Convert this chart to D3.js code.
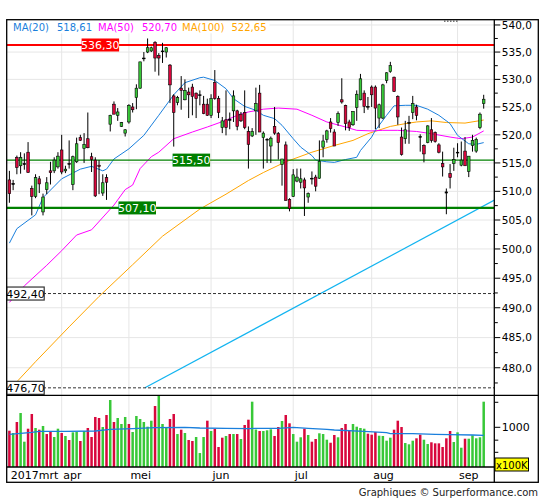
<!DOCTYPE html>
<html>
<head>
<meta charset="utf-8">
<script src="https://cdn.jsdelivr.net/npm/d3@7"></script>
<style>
  body { margin: 0; background: #fff; }
  svg { display: block; }
  text { font-family: "DejaVu Sans", Verdana, sans-serif; }
</style>
</head>
<body>
<svg id="chart" width="545" height="500"></svg>
<script>
// ---- data ----
// daily candles [open, high, low, close], 14 mrt .. 12 sep 2017
var candles = [
  [512.0,513.6,508.0,509.6],[511.2,512.0,510.2,511.4],[516.0,516.3,513.0,514.2],[514.5,516.9,513.1,516.0],[514.7,516.7,513.8,514.9],
  [516.9,518.7,513.3,513.3],[510.5,511.0,505.8,509.1],[509.1,513.0,508.8,512.4],[512.2,512.7,509.7,511.3],[506.4,509.6,505.8,509.0],
  [510.3,512.5,509.5,511.5],[513.6,515.2,511.2,513.3],[513.6,516.0,513.2,515.5],[514.3,516.9,514.0,516.2],[517.3,520.0,513.0,513.4],
  [513.6,514.5,513.2,513.9],[514.9,519.0,514.0,514.8],[511.2,516.3,510.2,516.1],[515.2,519.5,515.0,518.4],[519.5,520.0,518.9,519.0],
  [517.6,520.3,515.0,518.3],[519.3,524.0,517.6,517.7],[516.1,516.8,513.4,515.6],[515.5,516.0,509.0,509.2],[514.6,515.5,509.5,514.4],
  [509.7,513.0,509.2,511.5],[512.4,513.0,508.5,511.6],[521.9,523.6,520.6,523.5],[525.5,526.0,523.7,523.7],[523.5,524.8,522.5,524.1],
  [521.5,522.3,521.4,522.2],[520.3,521.0,519.7,520.9],[522.3,525.5,522.0,525.3],[525.0,525.7,524.0,524.5],[526.7,529.1,524.6,528.4],
  [528.4,533.2,528.3,533.2],[533.8,535.0,533.3,533.9],[535.0,537.5,534.8,535.8],[535.2,536.0,535.0,535.8],[536.8,537.0,531.4,533.9],
  [534.4,534.8,530.7,533.9],[535.2,536.7,533.0,535.1],[535.0,535.9,534.0,535.8],[532.6,532.8,525.7,529.0],[527.0,527.3,517.9,524.0],
  [525.8,527.0,525.3,526.7],[528.4,530.6,524.5,528.0],[526.3,530.0,526.2,528.0],[527.7,528.5,523.0,527.2],[528.6,529.2,523.5,526.9],
  [527.5,527.6,523.0,526.5],[527.1,528.0,525.3,527.2],[525.5,527.0,523.7,523.8],[525.5,526.5,523.4,523.5],[523.5,527.3,523.0,526.5],
  [529.4,531.7,526.3,526.5],[526.5,527.0,523.0,524.0],[521.3,523.2,520.3,522.5],[522.7,528.0,519.9,521.3],[522.8,524.0,521.0,522.6],
  [524.3,528.0,522.3,527.0],[524.3,524.5,520.8,521.5],[523.7,524.1,522.3,522.5],[524.0,528.0,521.0,521.3],[520.6,521.5,514.0,518.3],
  [519.8,521.2,519.6,520.6],[524.3,528.5,520.0,525.6],[527.5,529.0,520.5,520.5],[519.5,520.6,514.0,520.3],[519.2,519.4,515.0,519.1],
  [518.0,519.7,515.0,519.4],[521.5,525.0,520.0,520.3],[520.2,520.5,515.6,518.6],[514.7,515.7,511.0,515.7],[518.2,518.8,508.4,508.4],
  [508.6,508.8,506.5,507.0],[509.1,513.9,509.0,512.9],[511.8,514.0,511.6,512.5],[511.6,514.0,510.5,512.2],[512.0,512.4,505.7,510.6],
  [509.0,509.8,508.0,509.6],[512.3,513.5,511.2,512.2],[512.5,512.9,510.0,510.9],[512.3,519.0,512.2,515.3],[517.8,520.0,516.0,518.9],
  [519.2,520.9,518.6,520.7],[522.3,523.0,520.4,521.1],[520.5,521.0,518.0,518.0],[522.2,524.2,521.6,523.8],[526.3,530.2,525.6,525.9],
  [525.3,525.4,520.8,522.0],[522.3,522.7,520.7,521.3],[521.8,524.2,521.6,524.2],[524.9,528.0,522.5,527.3],[526.3,531.0,526.2,530.1],
  [527.5,528.0,523.9,525.1],[525.0,526.8,524.5,525.1],[528.6,528.9,525.0,527.2],[528.6,528.9,521.0,524.8],[523.0,525.6,521.2,525.4],
  [523.0,529.2,522.8,529.0],[529.8,531.3,529.3,531.2],[531.4,533.2,531.2,532.5],[530.4,530.5,527.7,527.8],[526.9,527.1,521.8,523.2],
  [519.6,521.3,516.3,516.5],[519.3,522.5,518.4,520.9],[522.1,523.4,518.4,522.2],[524.0,527.0,522.8,525.6],[525.0,525.4,522.6,523.5],
  [519.7,520.1,517.0,519.6],[518.1,518.3,515.1,516.6],[518.6,521.7,518.5,521.6],[520.9,523.0,518.6,519.0],[520.4,520.6,518.6,518.8],
  [518.2,518.5,516.7,516.9],[514.9,517.0,512.6,514.3],[509.9,510.5,506.0,509.7],[513.1,514.8,510.5,512.4],[514.9,517.7,513.6,515.6],
  [516.9,518.5,516.0,516.8],[514.6,518.8,514.4,515.5],[517.1,519.6,514.5,514.5],[513.5,516.2,512.5,516.2],[518.1,520.0,517.0,519.0],
  [517.1,519.5,516.8,519.2],[521.3,524.0,521.0,523.7],[525.6,527.2,524.7,526.4]
];

// volume in x100K, and bar colour (g = up, r = down)
var volume = [
  910,854,1158,1486,671,962,1446,981,936,1037, 830,885,764,962,854,786,703,870,885,684,
  902,981,764,1331,1294,1008,1406,2131,1158,1294, 1096,1331,1096,878,1368,1259,1158,1017,1201,1805,
  2382,1096,1008,1259,1446,830,936,854,703,684, 764,490,764,1201,902,954,579,750,786,830,
  830,830,723,1066,1235, 2034,940,902,902,920, 946,786,1008,1191,1406,
  1117,830,671,758,962,808,671,723,847,830, 709,652,808,758,981,1096,910,1096,1017,981,
  962,838,815,878,792,786,690,750,936,1201, 1008,647,624,690,737,815,709,629,660,641,
  641,579,737,902,665,870,568,729,729,801, 737,758,2034
];
var volumeDir = ("rgrggrrgrg" + "rrggrgrggr" + "grrrrgrgrg" + "ggrggggggr" + "gggrrgrgrr" +
                 "gggrgrrrgr" + "grgrr" + "ggrgggrrgr" + "rgggrgrrgg" + "grrgrrrggg" +
                 "grrrggggrr" + "rgggrrggrr" + "rrrrgggrgg" + "ggg").split("");

// moving averages [day index, value]
var ma20 = [[0,501.0],[2,503.5],[7,505.9],[9,508.9],[14,512.2],[19,513.9],[22,514.4],[25,513.6],[26,513.9],
  [28,515.7],[32,517.5],[36,519.9],[40,523.5],[44,527.2],[47,529.4],[51,530.3],[52,530.4],[55,529.8],
  [58,528.3],[60,526.5],[63,525.1],[66,524.4],[68,523.5],[71,522.9],[73,521.7],[76,519.3],[78,517.8],
  [81,516.3],[82,515.5],[85,515.2],[87,515.1],[90,515.6],[93,516.0],[94,517.2],[97,519.6],[98,520.8],
  [101,523.5],[103,525.2],[106,525.3],[109,525.3],[112,524.6],[115,523.5],[118,522.0],[120,519.9],
  [123,518.4],[125,518.3],[127,518.61]];
var ma50 = [[0,490.9],[4,493.7],[10,497.2],[14,499.7],[18,502.4],[22,503.3],[28,507.6],[31,510.3],[33,511.1],
  [35,514.0],[38,516.1],[40,516.9],[44,519.3],[49,520.5],[53,521.4],[58,522.6],[61,523.5],[64,524.1],
  [68,524.6],[72,524.8],[77,524.6],[81,523.5],[85,522.3],[90,521.4],[93,520.8],[97,520.7],[100,520.8],
  [104,520.8],[109,520.6],[113,520.2],[118,519.6],[121,519.3],[124,519.6],[127,520.70]];
var ma100 = [[0,476.4],[2,477.7],[7,481.0],[16,486.8],[24,491.9],[33,497.3],[41,502.2],[51,506.9],[58,509.5],
  [64,511.9],[68,513.3],[74,515.2],[81,516.9],[87,518.1],[92,519.0],[96,520.2],[102,521.5],[106,522.0],
  [109,522.3],[113,522.5],[117,522.2],[122,522.1],[127,522.65]];
var volumeMa = [[0,824],[3,847],[6,871],[8,895],[15,895],[23,903],[27,946],[33,962],[39,989],[47,1000],
  [51,981],[58,973],[64,962],[66,973],[72,973],[76,1000],[80,973],[85,946],[87,928],[95,895],[101,861],
  [102,838],[108,838],[114,824],[118,815],[124,808],[127,801]];

var trendLine = [[36.3,476.7],[130,508.5]];
var resistance = [536.30];
var supports = [515.50, 507.10];
var dashedLevels = [492.40, 476.70];
var legendNames = ["MA(20)", "MA(50)", "MA(100)"];
var legendValues = ["518,61", "520,70", "522,65"];
var monthStarts = [14, 32, 54, 76, 97, 120];
var monthLabels = ["apr", "mei", "jun", "jul", "aug", "sep"];
var firstLabel = "2017mrt";
var priceTicks = d3.range(480, 541, 5);
var volumeTicks = [500, 700, 1000, 2000];

// ---- layout ----
var L = 6.7, R = 494.3, T = 19.7, PB = 395.3, VB = 467, AB = 482.3, OR = 538.3;
var GREEN = "#38c838", RED = "#d8073c";
var maColors = ["#1a7fdc", "#ff00ff", "#ffa500"];

var svg = d3.select("#chart");
var x = d3.scaleLinear().domain([0, 127]).range([9.4, 483.7]);
var y = d3.scaleLog().domain([475.48, 540.98]).range([PB, T]);
var yv = d3.scaleLog().domain([332.7, 2428]).range([VB, PB]);
var fmt = function(v, p){ return d3.format("." + p + "f")(v).replace(".", ","); };

var defs = svg.append("defs");
defs.append("clipPath").attr("id", "clipP").append("rect")
  .attr("x", L).attr("y", T).attr("width", R - L).attr("height", PB - T);
defs.append("clipPath").attr("id", "clipV").append("rect")
  .attr("x", L).attr("y", PB).attr("width", R - L).attr("height", VB - PB);

// grid
var grid = svg.append("g").attr("stroke", "#e6e6e6").attr("stroke-width", 1);
grid.selectAll("line.h").data(priceTicks).join("line")
  .attr("x1", L).attr("x2", R).attr("y1", function(d){ return y(d); }).attr("y2", function(d){ return y(d); });
grid.selectAll("line.v").data(monthStarts).join("line")
  .attr("x1", function(d){ return x(d); }).attr("x2", function(d){ return x(d); })
  .attr("y1", T).attr("y2", VB);

// price panel
var gp = svg.append("g").attr("clip-path", "url(#clipP)");
var line = d3.line().x(function(d){ return x(d[0]); }).y(function(d){ return y(d[1]); });
[ma100, ma50, ma20].forEach(function(s, k){
  gp.append("path").attr("d", line(s)).attr("fill", "none")
    .attr("stroke", maColors[2 - k]).attr("stroke-width", 1);
});
gp.append("path").attr("d", line(trendLine)).attr("fill", "none")
  .attr("stroke", "#12b4f0").attr("stroke-width", 1.2);

gp.selectAll("line.res").data(resistance).join("line")
  .attr("x1", L).attr("x2", R).attr("y1", function(d){ return y(d); }).attr("y2", function(d){ return y(d); })
  .attr("stroke", "#ff0000").attr("stroke-width", 2.2);
gp.selectAll("line.sup").data(supports).join("line")
  .attr("x1", L).attr("x2", R).attr("y1", function(d){ return y(d); }).attr("y2", function(d){ return y(d); })
  .attr("stroke", "#008000").attr("stroke-width", function(d, i){ return i === 0 ? 1.2 : 2.4; });
gp.selectAll("line.dash").data(dashedLevels).join("line")
  .attr("x1", 43).attr("x2", R).attr("y1", function(d){ return y(d); }).attr("y2", function(d){ return y(d); })
  .attr("stroke", "#333").attr("stroke-width", 1).attr("stroke-dasharray", "3,2");

// candles
gp.selectAll("line.wick").data(candles).join("line")
  .attr("x1", function(d, i){ return x(i); }).attr("x2", function(d, i){ return x(i); })
  .attr("y1", function(d){ return y(d[1]); }).attr("y2", function(d){ return y(d[2]); })
  .attr("stroke", "#000").attr("stroke-width", 1);
gp.selectAll("rect.body").data(candles).join("rect")
  .attr("x", function(d, i){ return x(i) - 1.3; }).attr("width", 2.6)
  .attr("y", function(d){ return y(Math.max(d[0], d[3])); })
  .attr("height", function(d){ return Math.max(0.8, y(Math.min(d[0], d[3])) - y(Math.max(d[0], d[3]))); })
  .attr("fill", function(d){
    if (Math.abs(d[3] - d[0]) < 0.2) return "#000";
    return d[3] >= d[0] ? GREEN : RED;
  })
  .attr("stroke", "#000").attr("stroke-width", 0.6);

// level labels
function levelBox(v, bx, fill, stroke, color){
  var cy = y(v);
  gp.append("rect").attr("x", bx).attr("y", cy - 6.5).attr("width", 37.5).attr("height", 13)
    .attr("fill", fill).attr("stroke", stroke).attr("stroke-width", stroke === "none" ? 0 : 1.2);
  gp.append("text").attr("x", bx + 18.75).attr("y", cy + 4).attr("text-anchor", "middle")
    .attr("font-size", "11px").attr("fill", color).text(fmt(v, 2));
}
levelBox(resistance[0], 81.6, "#ff0000", "none", "#fff");
levelBox(supports[0], 172.6, "#008000", "none", "#fff");
levelBox(supports[1], 118.5, "#008000", "none", "#fff");
levelBox(dashedLevels[0], 6.7, "#fff", "#333", "#000");
levelBox(dashedLevels[1], 6.7, "#fff", "#333", "#000");

// legend
svg.append("rect").attr("x", 7.5).attr("y", 20.3).attr("width", 262).attr("height", 13).attr("fill", "#fff");
var lx = [13, 98, 182], vx = [57, 142, 231.5];
legendNames.forEach(function(n, k){
  svg.append("text").attr("x", lx[k]).attr("y", 30.5).attr("font-size", "10px").attr("fill", maColors[k]).text(n);
  svg.append("text").attr("x", vx[k]).attr("y", 30.5).attr("font-size", "10px").attr("fill", maColors[k]).text(legendValues[k]);
});
svg.append("line").attr("x1", 444).attr("x2", 458).attr("y1", 21.3).attr("y2", 21.3)
  .attr("stroke", "#777").attr("stroke-width", 1.5).attr("stroke-dasharray", "1.5,1.5");

// volume panel
var gv = svg.append("g").attr("clip-path", "url(#clipV)");
gv.selectAll("rect.vol").data(volume).join("rect")
  .attr("x", function(d, i){ return x(i) - 1.25; }).attr("width", 2.5)
  .attr("y", function(d){ return yv(d); })
  .attr("height", function(d){ return VB - yv(d); })
  .attr("fill", function(d, i){ return volumeDir[i] === "g" ? GREEN : RED; });
gv.append("path").attr("d", d3.line().x(function(d){ return x(d[0]); }).y(function(d){ return yv(d[1]); })(volumeMa))
  .attr("fill", "none").attr("stroke", "#1a7fdc").attr("stroke-width", 1.3);

// right axes
var ax = svg.append("g");
ax.selectAll("line.maj").data(priceTicks).join("line")
  .attr("x1", R).attr("x2", R + 6).attr("y1", function(d){ return y(d); }).attr("y2", function(d){ return y(d); })
  .attr("stroke", "#000");
ax.selectAll("line.min").data(d3.range(477.5, 541, 5)).join("line")
  .attr("x1", R).attr("x2", R + 3.5).attr("y1", function(d){ return y(d); }).attr("y2", function(d){ return y(d); })
  .attr("stroke", "#000");
ax.selectAll("text.pl").data(priceTicks).join("text")
  .attr("x", R + 7.5).attr("y", function(d){ return y(d) + 3.8; })
  .attr("font-size", "10.5px").attr("fill", "#000").text(function(d){ return fmt(d, 1); });
ax.selectAll("line.vt").data(volumeTicks).join("line")
  .attr("x1", R).attr("x2", function(d){ return d === 1000 ? R + 6 : R + 4; })
  .attr("y1", function(d){ return yv(d); }).attr("y2", function(d){ return yv(d); })
  .attr("stroke", "#000");
ax.append("text").attr("x", R + 7.5).attr("y", yv(1000) + 4).attr("font-size", "11px").text("1000");
ax.append("rect").attr("x", 495).attr("y", 458).attr("width", 33.5).attr("height", 13)
  .attr("fill", "#ffff00").attr("stroke", "#000").attr("stroke-width", 1);
ax.append("text").attr("x", 496).attr("y", 468.5).attr("font-size", "10px").text("x100K");

// x axis labels
svg.append("text").attr("x", 10.7).attr("y", 478.5).attr("font-size", "11px").text(firstLabel);
svg.selectAll("text.mon").data(monthStarts).join("text")
  .attr("x", function(d){ return x(d) + 1.5; }).attr("y", 478.5)
  .attr("font-size", "11px").text(function(d, i){ return monthLabels[i]; });

// frame
var fr = svg.append("g").attr("stroke", "#000").attr("stroke-width", 1.3).attr("fill", "none");
fr.append("rect").attr("x", L).attr("y", T).attr("width", OR - L).attr("height", AB - T);
fr.append("line").attr("x1", R).attr("x2", R).attr("y1", T).attr("y2", AB);
fr.append("line").attr("x1", L).attr("x2", OR).attr("y1", PB).attr("y2", PB);
fr.append("line").attr("x1", L).attr("x2", R).attr("y1", VB).attr("y2", VB);

svg.append("text").attr("x", 538).attr("y", 496).attr("text-anchor", "end")
  .attr("font-size", "10px").attr("fill", "#222").text("Graphiques \u00a9 Surperformance.com");
</script>
</body>
</html>
